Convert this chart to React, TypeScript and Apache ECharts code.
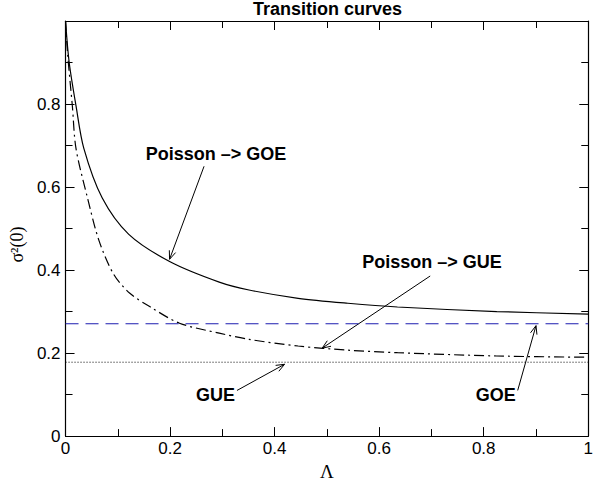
import React, { useEffect, useRef } from "react";
import * as echarts from "echarts";

// Poisson -> GOE transition curve (solid)
const goeLambda = [0, 0.007, 0.02, 0.035, 0.07, 0.121, 0.2, 0.294, 0.351, 0.445, 0.54, 0.635, 0.825, 1.0];
const goeSigma = [1.0, 0.9, 0.796, 0.693, 0.574, 0.486, 0.42, 0.371, 0.352, 0.332, 0.32, 0.311, 0.3, 0.294];

// Poisson -> GUE transition curve (dash-dot)
const gueLambda = [0, 0.004, 0.013, 0.02, 0.042, 0.064, 0.092, 0.123, 0.161, 0.218, 0.294, 0.351, 0.445, 0.54, 0.635, 0.825, 1.0];
const gueSigma = [1.0, 0.92, 0.796, 0.693, 0.574, 0.471, 0.39, 0.344, 0.312, 0.272, 0.248, 0.233, 0.217, 0.207, 0.201, 0.193, 0.19];

// Limiting values
const goeLimit = 0.2707;
const gueLimit = 0.178;

// Annotations: label, label position, arrow start, arrow tip (data coords)
const annLabels = ["Poisson –> GOE", "Poisson –> GUE", "GUE", "GOE"];
const annTextX = [0.288, 0.701, 0.287, 0.823];
const annTextY = [0.679, 0.419, 0.1, 0.1];
const annFromX = [0.265, 0.6976, 0.328, 0.865];
const annFromY = [0.65, 0.3857, 0.110, 0.110];
const annToX = [0.199, 0.491, 0.419, 0.9];
const annToY = [0.426, 0.2119, 0.173, 0.266];

const xTicks = { min: 0, max: 1, interval: 0.2 };
const yTicks = { min: 0, max: 1, interval: 0.2 };

export default function App() {
  const ref = useRef<HTMLDivElement>(null);
  useEffect(() => {
    if (!ref.current) return;
    const chart = echarts.init(ref.current, null, { renderer: "svg" });
    const axisCommon = {
      axisLine: { show: true, onZero: false, lineStyle: { color: "#000", width: 1.2 } },
      axisTick: { show: true, inside: true, length: 9, lineStyle: { color: "#000", width: 1 } },
      minorTick: { show: true, splitNumber: 2, length: 7, lineStyle: { color: "#000", width: 1 } },
      splitLine: { show: false },
      minorSplitLine: { show: false },
    };
    const labelStyle = { color: "#000", fontSize: 17, fontFamily: "Liberation Sans, Arial, sans-serif" };
    chart.setOption({
      animation: false,
      backgroundColor: "#fff",
      title: {
        text: "Transition curves",
        left: 253,
        top: 0,
        padding: 0,
        textStyle: { fontSize: 18, fontWeight: "bold", color: "#000", fontFamily: "Liberation Sans, Arial, sans-serif" },
      },
      grid: { left: 65, right: 4, top: 21, bottom: 45 },
      xAxis: [
        {
          type: "value",
          ...xTicks,
          ...axisCommon,
          axisLabel: { ...labelStyle, margin: 4 },
          name: "Λ",
          nameLocation: "middle",
          nameGap: 25,
          nameTextStyle: { fontSize: 19, color: "#000", fontFamily: "Liberation Serif, Times New Roman, serif" },
        },
        {
          type: "value",
          position: "top",
          ...xTicks,
          ...axisCommon,
          axisLabel: { show: false },
        },
      ],
      yAxis: [
        {
          type: "value",
          ...yTicks,
          ...axisCommon,
          axisLabel: { ...labelStyle, margin: 5, showMaxLabel: false },
          name: "σ²(0)",
          nameLocation: "middle",
          nameGap: 33,
          nameRotate: 90,
          nameTextStyle: {
            fontSize: 18,
            color: "#000",
            fontFamily: "Liberation Serif, Times New Roman, serif",
            padding: [0, 32, 0, 0],
          },
        },
        {
          type: "value",
          position: "right",
          ...yTicks,
          ...axisCommon,
          axisLabel: { show: false },
        },
      ],
      series: [
        {
          name: "Poisson -> GOE",
          type: "line",
          data: goeLambda.map((x, i) => [x, goeSigma[i]]),
          showSymbol: false,
          smooth: 0.3,
          lineStyle: { color: "#000", width: 1.2 },
        },
        {
          name: "Poisson -> GUE",
          type: "line",
          data: gueLambda.map((x, i) => [x, gueSigma[i]]),
          showSymbol: false,
          smooth: 0.3,
          lineStyle: { color: "#000", width: 1.2, type: [10, 4, 2, 4] },
        },
        {
          name: "GOE",
          type: "line",
          data: [[0, goeLimit], [1, goeLimit]],
          showSymbol: false,
          lineStyle: { color: "#1c1cb0", width: 1.2, type: [13, 7] },
        },
        {
          name: "GUE",
          type: "line",
          data: [[0, gueLimit], [1, gueLimit]],
          showSymbol: false,
          lineStyle: { color: "#000", width: 1, type: [1, 2] },
        },
        {
          name: "annotations",
          type: "custom",
          clip: false,
          data: annLabels.map((_, i) => [annFromX[i], annFromY[i], annToX[i], annToY[i], annTextX[i], annTextY[i]]),
          encode: { x: [0, 2, 4], y: [1, 3, 5] },
          renderItem: (params: any, api: any) => {
            const i = params.dataIndex;
            const p1 = api.coord([api.value(0), api.value(1)]);
            const p2 = api.coord([api.value(2), api.value(3)]);
            const pt = api.coord([api.value(4), api.value(5)]);
            const ang = Math.atan2(p2[1] - p1[1], p2[0] - p1[0]);
            const hl = 9;
            const spread = 0.38;
            const h1 = [p2[0] - hl * Math.cos(ang - spread), p2[1] - hl * Math.sin(ang - spread)];
            const h2 = [p2[0] - hl * Math.cos(ang + spread), p2[1] - hl * Math.sin(ang + spread)];
            return {
              type: "group",
              children: [
                {
                  type: "line",
                  shape: { x1: p1[0], y1: p1[1], x2: p2[0], y2: p2[1] },
                  style: { stroke: "#000", lineWidth: 1 },
                },
                {
                  type: "polyline",
                  shape: { points: [h1, p2, h2] },
                  style: { stroke: "#000", lineWidth: 1, fill: "none" },
                },
                {
                  type: "text",
                  x: pt[0],
                  y: pt[1],
                  style: {
                    text: annLabels[i],
                    fill: "#000",
                    fontSize: 18,
                    fontWeight: "bold",
                    fontFamily: "Liberation Sans, Arial, sans-serif",
                    align: "center",
                    verticalAlign: "middle",
                  },
                },
              ],
            };
          },
        },
      ],
    });
    return () => chart.dispose();
  }, []);
  return (
    <div
      ref={ref}
      style={{ position: "fixed", left: 0, top: 0, width: 596, height: 486, background: "#fff" }}
    />
  );
}
